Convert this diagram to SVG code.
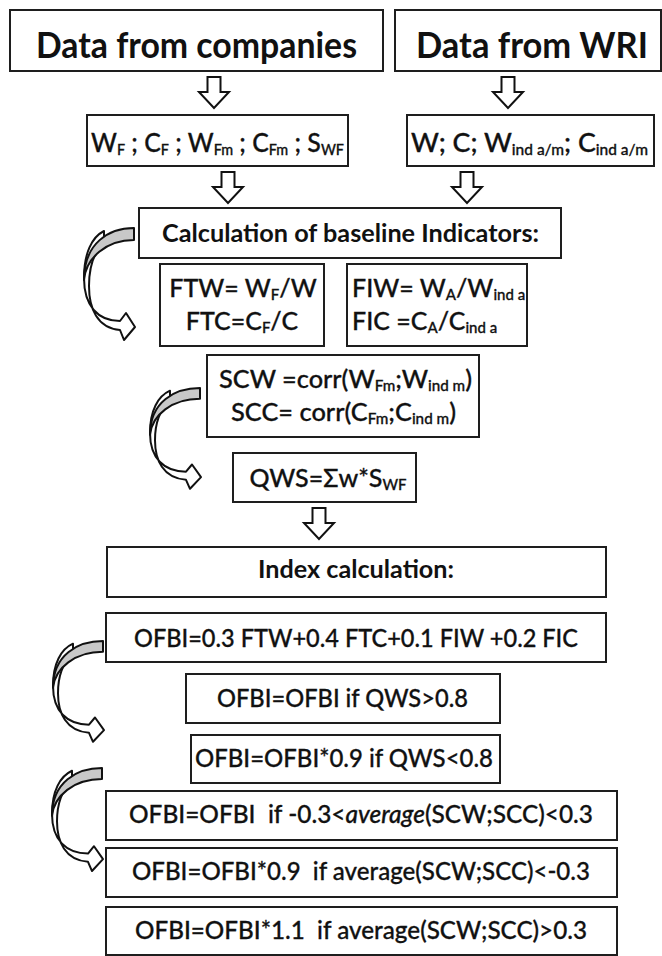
<svg xmlns="http://www.w3.org/2000/svg" xmlns:xlink="http://www.w3.org/1999/xlink" width="662" height="956" viewBox="0 0 662 956">
<style>
.box{fill:#fff;stroke:#1e1e1e;stroke-width:2}
.t{font-family:Lato,"Liberation Sans",sans-serif;fill:#111;white-space:pre}
.h1{font-size:36px;font-weight:700}
.h2{font-size:25px;font-weight:700}
.f{font-size:25px;font-weight:500;stroke:#111;stroke-width:0.3}
.r2{font-size:26px}
.s{font-size:15px}
.arr{fill:#fff;stroke:#111;stroke-width:2;stroke-linejoin:miter}
.cw{fill:#fff;stroke:#111;stroke-width:2;stroke-linejoin:round}
.cg{fill:#c8c8c8;stroke:#111;stroke-width:2;stroke-linejoin:round}
</style>
<defs>
<path id="down" class="arr" d="M-6.5,0 H6.5 V15 H15 L0,31 L-15,15 H-6.5 Z"/>
<g id="curve">
<path class="cw" vector-effect="non-scaling-stroke" d="M-30,3 C-42,9 -50,25 -50,50 C-50,78 -36,93 -14,93 L-8,85 L1,99 L-10,112 L-14,102 C-37,100 -45,80 -45,58 C-45,38 -40,24 -30,14 Z"/>
<path class="cg" vector-effect="non-scaling-stroke" d="M0,0 C-25,0 -50,15 -50,52 C-48,30 -28,12 0,12 Z"/>
</g>
</defs>
<g id="connectors">
<use xlink:href="#down" x="214" y="77"/>
<use xlink:href="#down" x="508" y="77"/>
<use xlink:href="#down" x="228" y="172"/>
<use xlink:href="#down" x="467" y="172"/>
<use xlink:href="#down" x="319" y="508"/>
<use xlink:href="#curve" transform="translate(134,228)"/>
<use xlink:href="#curve" transform="translate(200,388) scale(1,0.9)"/>
<use xlink:href="#curve" transform="translate(103,641) scale(1,0.9)"/>
<use xlink:href="#curve" transform="translate(102,768) scale(1,0.92)"/>
</g>
<g id="n1"><rect class="box" x="10" y="10" width="373" height="61"/><text class="t h1" x="196.5" y="58" text-anchor="middle" textLength="321" lengthAdjust="spacingAndGlyphs">Data from companies</text></g>
<g id="n2"><rect class="box" x="395" y="10" width="266" height="61"/><text class="t h1" x="532" y="58" text-anchor="middle" textLength="232" lengthAdjust="spacingAndGlyphs">Data from WRI</text></g>
<g id="n3"><rect class="box" x="87" y="115" width="261" height="51"/><text class="t f r2" x="91" y="152" textLength="253" lengthAdjust="spacingAndGlyphs">W<tspan class="s" dy="3">F</tspan><tspan dy="-3"> ; C</tspan><tspan class="s" dy="3">F</tspan><tspan dy="-3"> ; W</tspan><tspan class="s" dy="3">Fm</tspan><tspan dy="-3"> ; C</tspan><tspan class="s" dy="3">Fm</tspan><tspan dy="-3"> ; S</tspan><tspan class="s" dy="3">WF</tspan></text></g>
<g id="n4"><rect class="box" x="407" y="115" width="247" height="51"/><text class="t f r2" x="411" y="152" textLength="237" lengthAdjust="spacingAndGlyphs">W; C; W<tspan class="s" dy="3">ind a/m</tspan><tspan dy="-3">; C</tspan><tspan class="s" dy="3">ind a/m</tspan></text></g>
<g id="n5"><rect class="box" x="139" y="208" width="422" height="50"/><text class="t h2" x="350.5" y="242" text-anchor="middle" textLength="377" lengthAdjust="spacingAndGlyphs">Calculation of baseline Indicators:</text></g>
<g id="n6"><rect class="box" x="160" y="264" width="164" height="82"/><text class="t f" x="243" y="297" text-anchor="middle">FTW= W<tspan class="s" dy="3">F</tspan><tspan dy="-3">/W</tspan></text><text class="t f" x="242" y="330" text-anchor="middle">FTC=C<tspan class="s" dy="3">F</tspan><tspan dy="-3">/C</tspan></text></g>
<g id="n7"><rect class="box" x="347" y="264" width="180" height="82"/><text class="t f" x="352" y="297">FIW= W<tspan class="s" dy="3">A</tspan><tspan dy="-3">/W</tspan><tspan class="s" dy="3">ind a</tspan></text><text class="t f" x="352" y="330">FIC =C<tspan class="s" dy="3">A</tspan><tspan dy="-3">/C</tspan><tspan class="s" dy="3">ind a</tspan></text></g>
<g id="n8"><rect class="box" x="207" y="355" width="272" height="82"/><text class="t f" x="219" y="388" textLength="253" lengthAdjust="spacingAndGlyphs">SCW =corr(W<tspan class="s" dy="3">Fm</tspan><tspan dy="-3">;W</tspan><tspan class="s" dy="3">ind m</tspan><tspan dy="-3">)</tspan></text><text class="t f" x="231" y="421" textLength="225" lengthAdjust="spacingAndGlyphs">SCC= corr(C<tspan class="s" dy="3">Fm</tspan><tspan dy="-3">;C</tspan><tspan class="s" dy="3">ind m</tspan><tspan dy="-3">)</tspan></text></g>
<g id="n9"><rect class="box" x="233" y="453" width="183" height="49"/><text class="t f" x="328" y="487" text-anchor="middle">QWS=Σw*S<tspan class="s" dy="3">WF</tspan></text></g>
<g id="n10"><rect class="box" x="107" y="547" width="499" height="50"/><text class="t h2" x="356" y="578" text-anchor="middle" textLength="196" lengthAdjust="spacingAndGlyphs">Index calculation:</text></g>
<g id="n11"><rect class="box" x="106" y="613" width="500" height="49"/><text class="t f" x="356" y="647" text-anchor="middle" textLength="444" lengthAdjust="spacingAndGlyphs">OFBI=0.3 FTW+0.4 FTC+0.1 FIW +0.2 FIC</text></g>
<g id="n12"><rect class="box" x="186" y="674" width="314" height="49"/><text class="t f" x="342.5" y="707" text-anchor="middle" textLength="251" lengthAdjust="spacingAndGlyphs">OFBI=OFBI if QWS&gt;0.8</text></g>
<g id="n13"><rect class="box" x="191" y="735" width="309" height="48"/><text class="t f" x="344" y="767" text-anchor="middle" textLength="298" lengthAdjust="spacingAndGlyphs">OFBI=OFBI*0.9 if QWS&lt;0.8</text></g>
<g id="n14"><rect class="box" x="106" y="791" width="511" height="49"/><text class="t f" x="129" y="823" textLength="464" lengthAdjust="spacingAndGlyphs">OFBI=OFBI  if -0.3&lt;<tspan font-style="italic">average</tspan>(SCW;SCC)&lt;0.3</text></g>
<g id="n15"><rect class="box" x="106" y="848" width="511" height="49"/><text class="t f" x="132" y="880" textLength="458" lengthAdjust="spacingAndGlyphs">OFBI=OFBI*0.9  if average(SCW;SCC)&lt;-0.3</text></g>
<g id="n16"><rect class="box" x="106" y="907" width="511" height="48"/><text class="t f" x="135" y="939" textLength="452" lengthAdjust="spacingAndGlyphs">OFBI=OFBI*1.1  if average(SCW;SCC)&gt;0.3</text></g>
</svg>
